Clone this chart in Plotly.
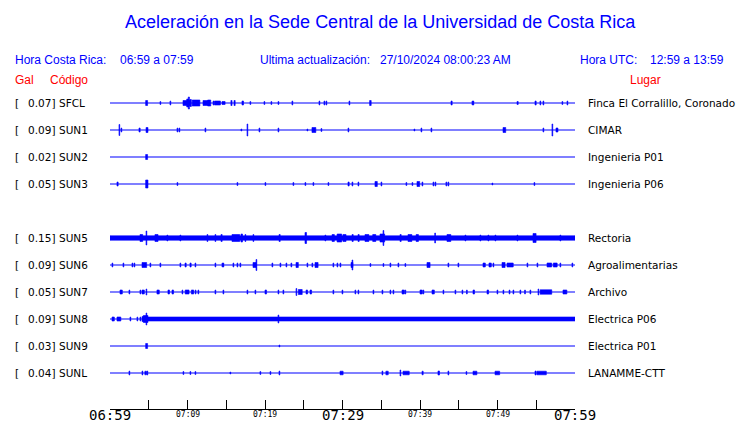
import plotly.graph_objects as go

# ---------------- data ----------------
stations = ["SFCL", "SUN1", "SUN2", "SUN3", "SUN5", "SUN6", "SUN7", "SUN8", "SUN9", "SUNL"]
peak_gal = [0.07, 0.09, 0.02, 0.05, 0.15, 0.09, 0.05, 0.09, 0.03, 0.04]
places = ["Finca El Corralillo, Coronado", "CIMAR", "Ingenieria P01", "Ingenieria P06",
          "Rectoria", "Agroalimentarias", "Archivo", "Electrica P06", "Electrica P01", "LANAMME-CTT"]
row_index = [0, 1, 2, 3, 5, 6, 7, 8, 9, 10]

# time axis: minutes after 06:59
tick_minutes = [0, 5, 10, 15, 20, 25, 30, 35, 40, 45, 50, 55, 60]
big_labels = {0: "06:59", 30: "07:29", 60: "07:59"}
small_labels = {10: "07:09", 20: "07:19", 40: "07:39", 50: "07:49"}

# bursts per station: (start minute, duration minutes, half amplitude)
ev_SFCL = [(4.6, 0.25, 2.5), (6.45, 0.1, 1.5), (7.74, 0.1, 2), (9.42, 0.9, 2.5), (9.9, 0.2, 4),
           (10.1, 0.15, 6), (10.3, 0.2, 3.5), (10.6, 1.0, 3), (12.0, 0.6, 2.5), (12.6, 0.4, 3),
           (13.3, 0.2, 2), (13.55, 0.7, 2), (14.45, 0.4, 1.5), (15.6, 0.15, 2.5), (16.0, 0.15, 2.5),
           (17.03, 0.2, 2), (18.06, 0.1, 1.5), (19.87, 0.1, 1.5), (20.77, 0.1, 1.5), (21.68, 0.1, 1.5),
           (23.48, 0.1, 2), (26.97, 0.1, 2), (27.61, 0.1, 2), (27.87, 0.1, 2), (30.84, 0.1, 2),
           (33.5, 0.2, 2.5), (44.0, 0.15, 2), (46.71, 0.1, 2), (46.84, 0.1, 2), (52.52, 0.15, 1.5),
           (54.84, 0.15, 2), (55.48, 0.1, 2), (55.87, 0.1, 2), (58.32, 0.1, 1.5), (58.97, 0.1, 2)]
ev_SUN1 = [(1.16, 0.1, 5.5), (1.42, 0.1, 2), (3.74, 0.15, 2), (4.65, 0.25, 2.5), (8.65, 0.1, 2),
           (8.9, 0.1, 2), (12.26, 0.1, 2), (16.9, 0.1, 1), (17.68, 0.1, 6), (19.23, 0.1, 2),
           (21.68, 0.1, 2), (25.42, 0.1, 1), (26.06, 0.5, 2.5), (27.23, 0.1, 1.5), (30.71, 0.1, 2),
           (39.23, 0.1, 1), (40.13, 0.1, 2), (41.42, 0.1, 2), (50.71, 0.35, 2.5), (55.87, 0.1, 2),
           (57.03, 0.1, 6), (57.55, 0.25, 2)]
ev_SUN2 = [(4.6, 0.25, 2.5)]
ev_SUN3 = [(0.9, 0.15, 2), (4.6, 0.3, 4), (8.65, 0.1, 1.5), (16.39, 0.1, 1.5), (20.0, 0.1, 1.5),
           (23.61, 0.1, 1.5), (25.16, 0.1, 1.5), (26.19, 0.1, 1.5), (28.13, 0.1, 1.5), (30.71, 0.15, 2),
           (31.23, 0.1, 2), (32.0, 0.1, 2), (34.19, 0.3, 2.5), (34.97, 0.1, 2), (38.19, 0.1, 1.5),
           (38.97, 0.1, 1.5), (39.61, 0.35, 2.5), (40.26, 0.1, 2), (41.68, 0.1, 2), (41.94, 0.1, 2),
           (43.35, 0.1, 2), (43.61, 0.1, 2), (49.29, 0.1, 1), (54.71, 0.1, 1.5)]
ev_SUN5 = [(0.0, 60.0, 2.2), (3.87, 0.35, 3.5), (4.65, 0.1, 7), (5.8, 0.4, 3.5), (7.35, 0.1, 3),
           (9.03, 0.1, 3), (12.52, 0.1, 3.5), (13.55, 0.1, 3.5), (14.32, 0.15, 3.5), (15.74, 1.0, 3.5),
           (16.9, 0.2, 4), (17.42, 0.1, 3.5), (18.45, 0.1, 3.5), (21.81, 0.15, 3.5), (25.16, 0.2, 5.5),
           (27.74, 0.1, 3), (28.65, 0.3, 3.5), (29.3, 0.6, 4), (30.06, 0.4, 3.5), (31.23, 0.15, 3.5),
           (32.0, 0.15, 3.5), (32.9, 0.5, 3.5), (33.9, 0.4, 3.5), (34.84, 0.6, 4), (35.23, 0.1, 7.5),
           (37.42, 0.15, 3.5), (38.45, 0.5, 3.5), (39.5, 0.3, 3.5), (41.9, 0.1, 5), (43.48, 0.5, 3.5),
           (45.81, 0.1, 3), (47.74, 0.1, 3), (48.77, 0.1, 3), (49.68, 0.1, 3), (52.52, 0.1, 3),
           (54.58, 0.4, 4.5), (58.06, 0.1, 3)]
ev_SUN6 = [(0.26, 0.1, 2), (1.68, 0.1, 2), (2.84, 0.1, 2), (3.1, 0.1, 2), (4.13, 0.6, 2.5),
           (5.16, 0.1, 2), (6.45, 0.1, 2), (9.03, 0.1, 2), (9.68, 0.15, 2), (10.32, 0.15, 2),
           (10.97, 0.1, 2), (13.55, 0.1, 2), (14.45, 0.1, 2), (14.58, 0.1, 2), (15.87, 0.1, 2),
           (16.39, 0.1, 2), (16.77, 0.1, 2), (18.45, 0.4, 2.5), (18.84, 0.1, 5.5), (20.9, 0.1, 2),
           (21.94, 0.1, 2), (22.71, 0.1, 2), (23.35, 0.1, 2), (24.0, 0.3, 2.5), (25.42, 0.1, 2),
           (26.06, 0.1, 2), (26.45, 0.4, 2.5), (28.77, 0.1, 2), (29.29, 0.1, 2), (29.68, 0.1, 2),
           (31.1, 0.25, 2.5), (31.23, 0.1, 5), (33.55, 0.1, 1.5), (35.23, 0.1, 1.5), (36.13, 0.1, 2),
           (37.16, 0.1, 2), (38.06, 0.1, 1.5), (40.9, 0.4, 2.5), (43.61, 0.1, 2), (44.9, 0.1, 2),
           (48.13, 0.3, 2), (48.9, 0.3, 2), (49.42, 0.1, 2), (50.58, 0.4, 2.5), (51.23, 0.8, 2),
           (53.81, 0.1, 2), (55.1, 0.1, 2), (56.39, 0.6, 2), (57.2, 0.5, 2), (58.06, 0.1, 2),
           (59.61, 0.1, 2)]
ev_SUN7 = [(1.29, 0.3, 2), (2.45, 0.1, 2), (3.87, 0.1, 2), (4.13, 0.3, 2), (4.65, 0.1, 3),
           (6.06, 0.3, 2), (7.48, 0.2, 2), (8.0, 0.2, 2), (9.29, 0.1, 2), (9.7, 0.5, 2),
           (10.5, 0.3, 2), (11.0, 0.1, 2), (11.35, 0.1, 2), (13.55, 0.1, 2), (14.58, 0.1, 2),
           (17.68, 0.1, 2), (18.71, 0.1, 2), (20.0, 0.2, 2), (21.68, 0.1, 2), (22.32, 0.1, 2),
           (24.0, 0.1, 3.5), (24.3, 0.5, 2.5), (25.3, 0.2, 2), (25.81, 0.2, 2), (28.77, 0.1, 2),
           (29.94, 0.1, 2), (31.61, 0.1, 2), (32.0, 0.1, 2), (33.94, 0.1, 2), (35.1, 0.1, 2),
           (36.13, 0.1, 2), (36.52, 0.1, 2), (37.68, 0.3, 2), (38.06, 0.1, 2), (40.0, 0.3, 2),
           (40.39, 0.1, 2), (41.55, 0.3, 2), (42.97, 0.1, 2), (44.52, 0.1, 2), (45.42, 0.1, 2),
           (46.0, 0.1, 2), (46.84, 0.2, 2), (48.65, 0.2, 2), (49.94, 0.1, 2), (50.71, 0.1, 2),
           (51.5, 0.1, 2), (52.0, 0.1, 2), (52.9, 0.1, 2), (53.5, 0.1, 2), (54.19, 0.1, 2),
           (55.23, 0.1, 3), (55.5, 1.5, 2.2), (58.45, 0.5, 2)]
ev_SUN8 = [(0.26, 0.3, 2), (0.9, 0.5, 2), (2.58, 0.1, 2), (3.48, 0.1, 2), (3.87, 0.1, 2),
           (4.13, 0.3, 2.5), (4.3, 0.6, 3.5), (4.65, 0.1, 6), (4.9, 55.1, 2.0), (21.68, 0.1, 4)]
ev_SUN9 = [(4.6, 0.25, 2.5), (21.81, 0.1, 1)]
ev_SUNL = [(2.45, 0.1, 2), (4.13, 0.1, 2), (4.5, 0.2, 1.8), (4.77, 0.1, 2), (9.42, 0.1, 1.5),
           (10.32, 0.1, 1.5), (10.97, 0.1, 1.5), (15.48, 0.1, 1), (19.35, 0.1, 1.5), (20.65, 0.1, 1.5),
           (21.81, 0.1, 2), (29.68, 0.4, 1.8), (35.1, 0.1, 2), (35.6, 0.3, 1.8), (37.42, 0.1, 3),
           (37.81, 0.8, 1.8), (40.26, 0.15, 1.8), (42.32, 0.2, 2), (43.61, 0.1, 2), (45.94, 0.1, 1.5),
           (46.84, 0.5, 1.8), (49.68, 0.6, 1.8), (54.84, 0.15, 2), (55.1, 1.2, 1.8)]
events = [ev_SFCL, ev_SUN1, ev_SUN2, ev_SUN3, ev_SUN5, ev_SUN6, ev_SUN7, ev_SUN8, ev_SUN9, ev_SUNL]

# ---------------- layout constants ----------------
W, H = 740, 423
ROW_TOP, ROW_STEP = 103, 27
X0, X1 = 110, 575
AXIS_Y = 409
BLUE = "#0000ff"
RED = "#ff0000"
ARIAL = "Liberation Sans, Arial, sans-serif"
DEJA = "DejaVu Sans, sans-serif"
MONO = "DejaVu Sans Mono, monospace"

fig = go.Figure()

for st, idx, evs in zip(stations, row_index, events):
    yc = ROW_TOP + ROW_STEP * idx
    fig.add_trace(go.Scatter(x=[0, 60], y=[yc, yc], mode="lines",
                             line=dict(color=BLUE, width=1.2), hoverinfo="skip", showlegend=False))
    xs, ys = [], []
    for t, d, a in evs:
        xs += [t, t + d, t + d, t, t, None]
        ys += [yc - a, yc - a, yc + a, yc + a, yc - a, None]
    fig.add_trace(go.Scatter(x=xs, y=ys, mode="lines", fill="toself", fillcolor=BLUE,
                             line=dict(color=BLUE, width=0.6), hoverinfo="skip", showlegend=False))

ann = []
def txt(x, y, s, color="black", size=11, family=DEJA, xanchor="left", xref="paper"):
    ann.append(dict(x=x / W if xref == "paper" else x, y=y, xref=xref, yref="y", text=s,
                    showarrow=False, xanchor=xanchor, yanchor="middle", borderpad=0,
                    font=dict(color=color, size=size, family=family)))

txt(380, 22, "Aceleración en la Sede Central de la Universidad de Costa Rica", BLUE, 18, ARIAL, "center")
txt(14, 60, "Hora Costa Rica:", BLUE, 12, ARIAL)
txt(119, 60, "06:59 a 07:59", BLUE, 12, ARIAL)
txt(259, 60, "Ultima actualización:", BLUE, 12, ARIAL)
txt(379, 60, "27/10/2024 08:00:23 AM", BLUE, 12, ARIAL)
txt(579, 60, "Hora UTC:", BLUE, 12, ARIAL)
txt(649, 60, "12:59 a 13:59", BLUE, 12, ARIAL)
txt(14, 80, "Gal", RED, 12, ARIAL)
txt(49, 80, "Código", RED, 12, ARIAL)
txt(662, 80, "Lugar", RED, 12, ARIAL, "right")

for st, g, pl, idx in zip(stations, peak_gal, places, row_index):
    yc = ROW_TOP + ROW_STEP * idx
    txt(14, yc, "[", "black", 10.5, DEJA)
    txt(56, yc, f"{g:.2f}]", "black", 10.5, DEJA, "right")
    txt(58, yc, st, "black", 10.5, DEJA)
    txt(587, yc, pl, "black", 10.5, DEJA)

for m, s in big_labels.items():
    txt(m, 414.5, s, "black", 14, MONO, "center", xref="x")
for m, s in small_labels.items():
    txt(m, 414, s, "black", 8, MONO, "center", xref="x")

fig.update_layout(
    width=W, height=H, margin=dict(l=0, r=0, t=0, b=0),
    paper_bgcolor="white", plot_bgcolor="white",
    annotations=ann, hovermode=False,
    xaxis=dict(domain=[X0 / W, X1 / W], range=[0, 60], anchor="free",
               position=(H - AXIS_Y) / H, showline=True, linecolor="black", linewidth=1,
               ticks="inside", ticklen=9, tickcolor="black", tickwidth=1,
               tickvals=tick_minutes, showticklabels=False, showgrid=False, zeroline=False),
    yaxis=dict(range=[H, 0], domain=[0, 1], visible=False, showgrid=False, zeroline=False),
)

fig.write_html("out.html", config={"displayModeBar": False},
               post_script="document.body.style.margin='0';document.body.style.overflow='hidden';")
